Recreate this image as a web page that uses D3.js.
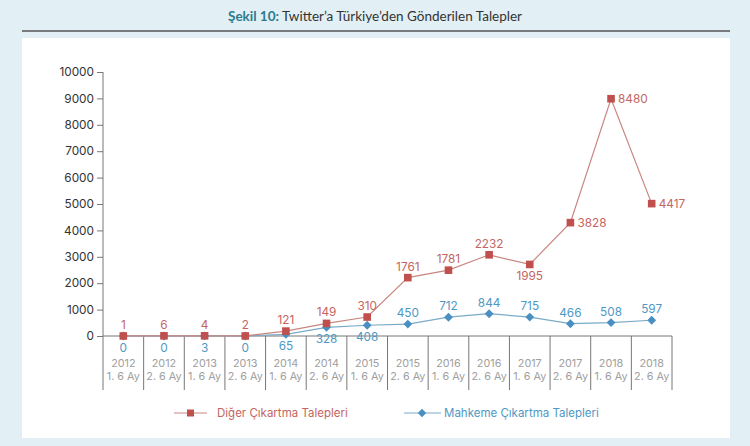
<!DOCTYPE html>
<html><head><meta charset="utf-8">
<script src="https://cdn.jsdelivr.net/npm/d3@7"></script>
<style>
html,body{margin:0;padding:0;background:#e2eff4;}
svg{display:block;}
</style></head>
<body>
<svg id="c" width="750" height="446"></svg>
<script>
const years = ["2012","2012","2013","2013","2014","2014","2015","2015","2016","2016","2017","2017","2018","2018"];
const halves = ["1. 6 Ay","2. 6 Ay","1. 6 Ay","2. 6 Ay","1. 6 Ay","2. 6 Ay","1. 6 Ay","2. 6 Ay","1. 6 Ay","2. 6 Ay","1. 6 Ay","2. 6 Ay","1. 6 Ay","2. 6 Ay"];
const diger = [1,6,4,2,121,149,310,1761,1781,2232,1995,3828,8480,4417];
const mahkeme = [0,0,3,0,65,328,408,450,712,844,715,466,508,597];
const yTicks = [0,1000,2000,3000,4000,5000,6000,7000,8000,9000,10000];
const seriesNames = ["Diğer Çıkartma Talepleri","Mahkeme Çıkartma Talepleri"];
// label placement for each point: a=above, b=below, r=right
const digerPos = ["a","a","a","a","a","a","a","a","a","a","b","r","r","r"];
const mahkemePos = ["b","b","b","b","b","b","b","a","a","a","a","a","a","a"];

const cats = years.map((y,i)=>i);
const svg = d3.select("#c");
const font = "Inter, 'Noto Sans', sans-serif";
const RED = "#c0504d", RED_T = "#c4665f", RED_L = "#c98680";
const BLUE = "#4a8fc2", BLUE_T = "#4f98c4", BLUE_L = "#7aaac8";

// white panel
svg.append("rect").attr("x",22).attr("y",38).attr("width",708).attr("height",400).attr("fill","#ffffff");

// title
const title = svg.append("text").attr("x",375).attr("y",21).attr("text-anchor","middle")
  .attr("font-family","Lato, 'Open Sans', sans-serif").attr("font-size",13.5).attr("fill","#333");
title.append("tspan").attr("font-weight","bold").attr("fill","#2b7b8e").text("Şekil 10:");
title.append("tspan").text(" Twitter’a Türkiye’den Gönderilen Talepler");
svg.append("line").attr("x1",22).attr("x2",730).attr("y1",31).attr("y2",31).attr("stroke","#555").attr("stroke-width",1.3);

const x = d3.scaleBand().domain(cats).range([103,672]).padding(0);
const y = d3.scaleLinear().domain([0,10000]).range([336,72]);

// y axis
const ya = svg.append("g").attr("transform","translate(103,0)")
  .call(d3.axisLeft(y).tickValues(yTicks).tickSize(6).tickPadding(3).tickFormat(d3.format("d")));
ya.select(".domain").attr("stroke","#777").attr("d","M0,72V390");
ya.selectAll(".tick line").attr("stroke","#777");
ya.selectAll(".tick text").attr("font-family",font).attr("font-size",11.8).attr("fill","#333");

// x axis line and table grid
svg.append("line").attr("x1",103).attr("x2",672).attr("y1",336).attr("y2",336).attr("stroke","#777");
const bounds = cats.map(c=>x(c)+x.bandwidth());
svg.append("g").selectAll("line").data(bounds).join("line")
  .attr("x1",d=>d).attr("x2",d=>d).attr("y1",336).attr("y2",390).attr("stroke","#777");
const catG = svg.append("g").attr("font-family",font).attr("font-size",10.8).attr("fill","#a0a0a0").attr("text-anchor","middle");
catG.selectAll("text.yr").data(cats).join("text").attr("class","yr")
  .attr("x",d=>x(d)+x.bandwidth()/2).attr("y",367).text(d=>years[d]);
catG.selectAll("text.hf").data(cats).join("text").attr("class","hf")
  .attr("x",d=>x(d)+x.bandwidth()/2).attr("y",380).text(d=>halves[d]);

const cx = d=>x(d)+x.bandwidth()/2;
const stacked = diger.map((v,i)=>v+mahkeme[i]);

const line = d3.line().x((d,i)=>cx(i)).y(d=>y(d));
svg.append("path").datum(mahkeme).attr("d",line).attr("fill","none").attr("stroke",BLUE_L).attr("stroke-width",1.2);
svg.append("path").datum(stacked).attr("d",line).attr("fill","none").attr("stroke",RED_L).attr("stroke-width",1.2);

// markers
svg.append("g").selectAll("path").data(mahkeme).join("path")
  .attr("d",d3.symbol(d3.symbolDiamond2,50)).attr("fill",BLUE)
  .attr("transform",(d,i)=>`translate(${cx(i)},${y(d)})`);
svg.append("g").selectAll("rect").data(stacked).join("rect")
  .attr("x",(d,i)=>cx(i)-3.8).attr("y",d=>y(d)-3.8).attr("width",7.6).attr("height",7.6).attr("fill",RED);

// labels
function place(vals, plotted, pos, color){
  svg.append("g").selectAll("text").data(vals).join("text")
    .attr("font-family",font).attr("font-size",11.8).attr("fill",color)
    .attr("x",(d,i)=>pos[i]==="r"? cx(i)+7 : cx(i))
    .attr("y",(d,i)=>{const py=y(plotted[i]); return pos[i]==="a"? py-7 : pos[i]==="b"? py+16 : py+4;})
    .attr("text-anchor",(d,i)=>pos[i]==="r"?"start":"middle")
    .text(d=>d);
}
place(diger, stacked, digerPos, RED_T);
place(mahkeme, mahkeme, mahkemePos, BLUE_T);

// legend
const lg = svg.append("g");
lg.append("line").attr("x1",174).attr("x2",207).attr("y1",413).attr("y2",413).attr("stroke",RED_L).attr("stroke-width",1.2);
lg.append("rect").attr("x",187).attr("y",409.5).attr("width",7).attr("height",7).attr("fill",RED);
lg.append("text").attr("x",217).attr("y",417).attr("font-family",font).attr("font-size",11.5).attr("fill",RED_T).text(seriesNames[0]);
lg.append("line").attr("x1",404).attr("x2",441).attr("y1",413).attr("y2",413).attr("stroke",BLUE_L).attr("stroke-width",1.2);
lg.append("path").attr("d",d3.symbol(d3.symbolDiamond2,45)).attr("fill",BLUE).attr("transform","translate(422,413)");
lg.append("text").attr("x",444).attr("y",417).attr("font-family",font).attr("font-size",11.5).attr("fill",BLUE_T).text(seriesNames[1]);
</script>
</body></html>
